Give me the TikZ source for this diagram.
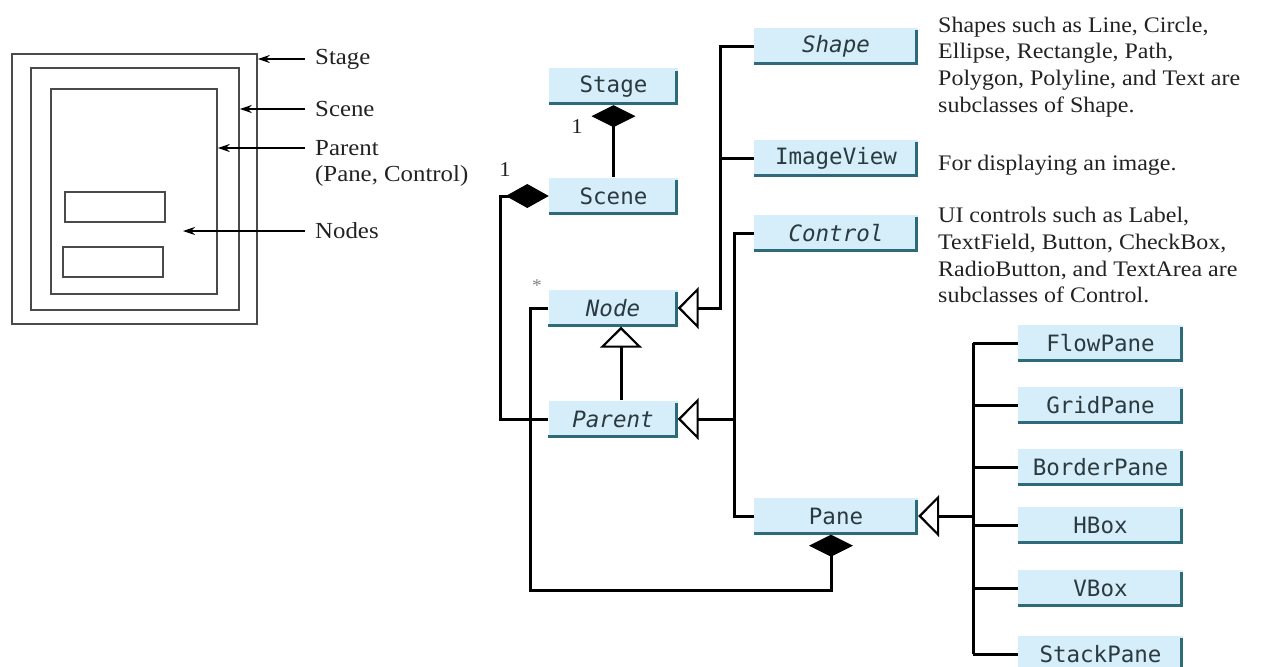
\documentclass[tikz,border=0pt]{standalone}
\usepackage{fontspec}
\setmainfont{Liberation Serif}[FakeStretch=1.08]
\newfontfamily\clsfont{DejaVu Sans Mono}
\usetikzlibrary{arrows.meta}
\definecolor{boxfill}{HTML}{D5EEF9}
\definecolor{boxshade}{HTML}{2D6B7B}
\definecolor{clstext}{HTML}{2A3A40}
\definecolor{figline}{HTML}{4A4A4A}
\definecolor{txt}{HTML}{222222}
\begin{document}
\begin{tikzpicture}[x=1pt,y=-1pt,
  cls/.style={fill=boxfill, inner sep=0pt, minimum height=37pt, text=clstext,
    font=\clsfont\fontsize{22.5}{26}\selectfont},
  smallcls/.style={cls, minimum width=129pt},
  widecls/.style={cls, minimum width=164pt},
  abstract/.style={font=\clsfont\itshape\fontsize{22.5}{26}\selectfont},
  shad/.style={draw=boxshade, line width=3pt},
  conn/.style={draw=black, line width=3pt},
  inh/.style={conn, -{Triangle[open, length=21pt, width=42pt, line width=2.2pt]}},
  compv/.style={conn, -{Diamond[length=22pt, width=44pt]}},
  comph/.style={conn, -{Diamond[length=43pt, width=24pt]}},
  desc/.style={text=txt, inner sep=0pt, align=left, font=\fontsize{22.2}{26.7}\selectfont},
  lbl/.style={text=txt, inner sep=0pt, font=\fontsize{23}{26.7}\selectfont},
  mult/.style={text=txt, inner sep=0pt, font=\fontsize{21}{24}\selectfont},
  figrect/.style={draw=figline, line width=1.6pt, inner sep=0pt},
  pointer/.style={draw=black, line width=1.3pt, -{Stealth[length=12pt, width=8pt]}}
]
\useasboundingbox (0,0) rectangle (1262,667);
\clip (0,0) rectangle (1262,667);

% ---------- left illustration ----------
\node[figrect, minimum width=245pt, minimum height=270pt] (outer) at (134.5,189) {};
\node[figrect, minimum width=208pt, minimum height=242pt] (sceneR) at (135,189) {};
\node[figrect, minimum width=166pt, minimum height=205pt] (parentR) at (134,191.5) {};
\node[figrect, minimum width=100pt, minimum height=30pt] (n1) at (115,207) {};
\node[figrect, minimum width=100pt, minimum height=30pt] (n2) at (113,262) {};
\coordinate (nodesPt) at (183,231);

\node[lbl, anchor=west] (lStage) at (315,59) {Stage};
\node[lbl, anchor=west] (lScene) at (315,109) {Scene};
\node[lbl, anchor=west] (lParent) at (315,148) {Parent};
\node[lbl, anchor=west] (lPaneCtl) at (315,176) {(Pane, Control)};
\node[lbl, anchor=west] (lNodes) at (315,231) {Nodes};

\draw[pointer] ([xshift=-10pt]lStage.west) -- (outer.east |- lStage.west);
\draw[pointer] ([xshift=-10pt]lScene.west) -- (sceneR.east |- lScene.west);
\draw[pointer] ([xshift=-10pt]lParent.west) -- (parentR.east |- lParent.west);
\draw[pointer] ([xshift=-10pt]lNodes.west) -- (nodesPt);

% ---------- class boxes ----------
\node[smallcls] (stage) at (613.5,86.5) {Stage};
\node[smallcls] (scene) at (613.5,196) {Scene};
\node[smallcls, abstract] (node) at (613,308) {Node};
\node[smallcls, abstract] (parent) at (613,419) {Parent};

\node[widecls, abstract] (shape) at (836,46) {Shape};
\node[widecls] (imageview) at (836,158) {ImageView};
\node[widecls, abstract] (control) at (836,233) {Control};
\node[widecls] (pane) at (836,516) {Pane};

\node[widecls, minimum width=165pt] (flowpane) at (1100.5,343) {FlowPane};
\node[widecls, minimum width=165pt] (gridpane) at (1100.5,405) {GridPane};
\node[widecls, minimum width=165pt] (borderpane) at (1100.5,467) {BorderPane};
\node[widecls, minimum width=165pt] (hbox) at (1100.5,525) {HBox};
\node[widecls, minimum width=165pt] (vbox) at (1100.5,588) {VBox};
\node[widecls, minimum width=165pt] (stackpane) at (1100.5,654) {StackPane};

\foreach \n in {stage,scene,node,parent,shape,imageview,control,pane,
                flowpane,gridpane,borderpane,hbox,vbox,stackpane}{
  \draw[shad] ([yshift=1.5pt]\n.south west) -- ([xshift=-1.5pt,yshift=1.5pt]\n.south east)
     -- ([xshift=-1.5pt,yshift=-3pt]\n.north east);
}

% ---------- descriptions ----------
\node[desc, anchor=north west] (dShape) at (938,16.5)
  {Shapes such as Line, Circle,\\Ellipse, Rectangle, Path,\\Polygon, Polyline, and Text are\\subclasses of Shape.};
\node[desc, anchor=base west] (dImage) at (938,170) {For displaying an image.};
\node[desc, anchor=north west] (dControl) at (938,207)
  {UI controls such as Label,\\TextField, Button, CheckBox,\\RadioButton, and TextArea are\\subclasses of Control.};

% ---------- connectors ----------
% Stage <>- Scene
\draw[compv] (scene.north) -- (stage.south);
\node[mult] (m1) at (577,127) {1};
% Scene <>- Parent
\coordinate (sceneTurn) at (500,196);
\draw[comph] (parent.west) -- (sceneTurn |- parent.west) -- (sceneTurn) -- (scene.west);
\node[mult] (m2) at (505,170) {1};
% Pane <>- Node
\coordinate (paneBase) at (831,590);
\draw[compv] (node.west) -- (530,308) |- (paneBase) -- ([xshift=-5pt]pane.south);
\node[text=gray, inner sep=0pt, font=\fontsize{18}{20}\selectfont] (star) at (537,286) {*};

% Parent --|> Node
\draw[inh] ([xshift=8pt]parent.north) -- ([xshift=8pt]node.south);
% Shape, ImageView --|> Node
\coordinate (jNode) at (720,308);
\draw[inh] (shape.west) -- (jNode |- shape.west) -- (jNode) -- (node.east);
\draw[conn] (imageview.west) -- (jNode |- imageview.west);
% Control, Pane --|> Parent
\coordinate (jParent) at (734,419);
\draw[inh] (control.west) -- (jParent |- control.west) -- (jParent) -- (parent.east);
\draw[conn] (pane.west) -- (jParent |- pane.west) -- (jParent);
% Panes --|> Pane
\coordinate (jPane) at (973,516);
\draw[conn] (jPane |- flowpane.west) -- (jPane |- stackpane.west);
\foreach \c in {flowpane,gridpane,borderpane,hbox,vbox,stackpane}{
  \draw[conn] (\c.west) -- (jPane |- \c.west);
}
\draw[inh] (jPane) -- (pane.east);
\end{tikzpicture}
\end{document}
